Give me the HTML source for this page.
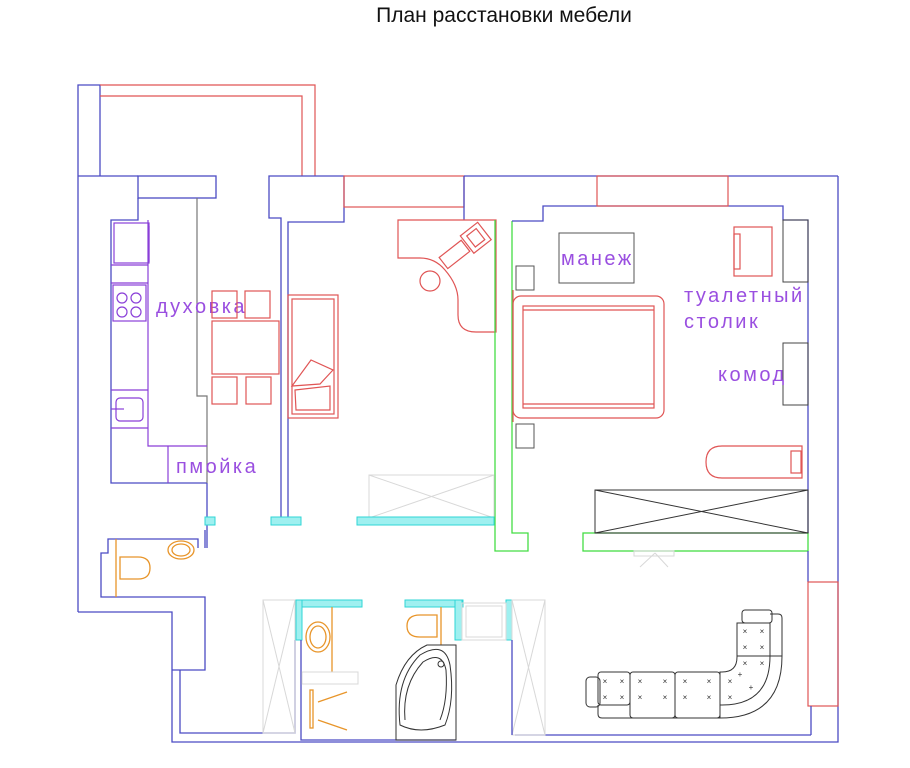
<!DOCTYPE html>
<html><head><meta charset="utf-8"><style>
html,body{margin:0;padding:0;background:#fff;width:910px;height:768px;overflow:hidden}
svg{display:block}
.b{stroke:#4b4bc4;fill:none;stroke-width:1.3}
.r{stroke:#e05555;fill:none;stroke-width:1.2}
.g{stroke:#44dd44;fill:none;stroke-width:1.3}
.k{stroke:#333;fill:none;stroke-width:1}
.lg{stroke:#d8d8d8;fill:none;stroke-width:1}
.o{stroke:#e8952a;fill:none;stroke-width:1.3}
.p{stroke:#8a3fd8;fill:none;stroke-width:1.2}
.c{fill:#9ff0f0;stroke:#2fd6d6;stroke-width:1}
.t{font-family:"Liberation Sans",sans-serif;fill:#9a4fe0;font-size:20px;letter-spacing:2.5px}
</style></head><body>
<svg width="910" height="768" viewBox="0 0 910 768">
<text x="504" y="22" text-anchor="middle" font-family="Liberation Sans, sans-serif" font-size="21" fill="#111">План расстановки мебели</text>

<!-- balcony -->
<polyline class="b" points="78,612 78,85 100,85 100,176"/>
<line class="b" x1="78" y1="176" x2="138" y2="176"/>
<polyline class="r" points="100,85 315,85 315,176"/>
<polyline class="r" points="100,96 302,96 302,176"/>
<rect class="b" x="138" y="176" width="78" height="22"/>
<polyline class="b" points="138,198 138,220 111,220 111,483 207,483"/>
<polyline points="197,198 197,396 207,396 207,483" fill="none" stroke="#777" stroke-width="1.2"/>
<polyline class="b" points="207,483 207,548"/>
<!-- counter -->
<polyline class="p" points="148,220 148,446 207,446"/>
<line class="p" x1="168" y1="446" x2="168" y2="483"/>
<rect class="p" x="114" y="223" width="35" height="40"/>
<line class="p" x1="149" y1="226" x2="149" y2="262" stroke-width="2"/>
<line class="p" x1="111" y1="265" x2="148" y2="265"/>
<line class="p" x1="111" y1="283" x2="148" y2="283"/>
<rect class="p" x="113" y="285" width="33" height="36" stroke-width="1.6"/>
<circle class="p" cx="122" cy="298" r="5"/><circle class="p" cx="136" cy="298" r="5"/>
<circle class="p" cx="122" cy="312" r="5"/><circle class="p" cx="136" cy="312" r="5"/>
<line class="p" x1="111" y1="390" x2="148" y2="390"/>
<line class="p" x1="111" y1="428" x2="148" y2="428"/>
<rect class="p" x="116" y="398" width="27" height="23" rx="4" stroke-width="2.2"/>
<line class="p" x1="111" y1="409" x2="124" y2="409" stroke-width="2"/>
<text class="t" x="156" y="313">духовка</text>
<text class="t" x="176" y="473">пмойка</text>
<!-- dining -->
<rect class="r" x="212" y="321" width="67" height="53"/>
<rect class="r" x="212" y="291" width="25" height="27"/><rect class="r" x="245" y="291" width="25" height="27"/>
<rect class="r" x="212" y="377" width="25" height="27"/><rect class="r" x="246" y="377" width="25" height="27"/>
<!-- hall wall block -->
<polyline class="b" points="281,518 281,218 269,218 269,176 344,176 344,222 288,222 288,518"/>
<rect class="r" x="344" y="176" width="120" height="31"/>
<line class="b" x1="464" y1="176" x2="838" y2="176"/>
<line class="b" x1="464" y1="176" x2="464" y2="220"/>
<!-- sofa bed left -->
<rect class="r" x="288" y="295" width="50" height="123" stroke-width="1.6"/>
<rect class="r" x="292" y="299" width="42" height="115"/>
<polygon class="r" points="292,386 311,360 333,370 320,384"/>
<polygon class="r" points="295,390 330,386 330,410 296,410"/>
<!-- desk -->
<path class="r" d="M398,220 H496 V332 H476 Q458,332 458,315 V300 Q458,285 445,270 Q435,258 420,258 H398 Z"/>
<g transform="rotate(-38 465 250)" class="r"><rect x="440" y="240" width="28" height="14"/><rect x="470" y="236" width="22" height="22"/><rect x="475" y="240" width="12" height="14"/></g>
<circle class="r" cx="430" cy="281" r="10" stroke-width="1.8"/>
<!-- bedroom walls -->
<polyline class="g" points="495,220 495,551 528,551 528,533 512,533 512,221"/>
<rect class="g" x="583" y="533" width="225" height="18"/>
<polyline class="b" points="512,221 543,221 543,206 783,206 783,220 808,220 808,533"/>
<rect class="r" x="597" y="176" width="131" height="30"/>
<polyline class="b" points="838,176 838,742 172,742 172,612 78,612"/>
<polyline class="b" points="808,551 808,582"/>
<rect class="r" x="808" y="582" width="30" height="124"/>
<line class="b" x1="811" y1="706" x2="811" y2="735"/>
<line class="b" x1="515" y1="735" x2="811" y2="735"/>
<!-- bedroom furniture -->
<rect x="783" y="220" width="25" height="62" fill="none" stroke="#444"/>
<rect x="783" y="343" width="25" height="62" fill="none" stroke="#444"/>
<rect x="559" y="233" width="75" height="50" fill="none" stroke="#555"/>
<text class="t" x="561" y="265">манеж</text>
<text class="t" x="684" y="302">туалетный</text>
<text class="t" x="684" y="328">столик</text>
<text class="t" x="718" y="381">комод</text>
<rect x="516" y="266" width="18" height="24" fill="none" stroke="#555"/>
<rect x="516" y="424" width="18" height="24" fill="none" stroke="#555"/>
<rect class="r" x="513" y="296" width="151" height="122" rx="8" stroke-width="1.4"/>
<rect class="r" x="523" y="306" width="131" height="102" stroke-width="1.4"/>
<line class="r" x1="513" y1="290" x2="513" y2="422" stroke-width="2.5"/>
<line class="r" x1="523" y1="310" x2="654" y2="310"/><line class="r" x1="523" y1="404" x2="654" y2="404"/>
<rect class="r" x="734" y="227" width="38" height="49"/>
<rect class="r" x="734" y="234" width="6" height="35"/>
<path class="r" d="M722,446 H802 V478 H722 Q706,478 706,462 Q706,446 722,446 Z"/>
<rect class="r" x="791" y="451" width="10" height="22"/>
<rect class="k" x="595" y="490" width="213" height="43"/>
<line class="k" x1="595" y1="490" x2="808" y2="533"/><line class="k" x1="595" y1="533" x2="808" y2="490"/>
<!-- doors -->
<rect class="lg" x="369" y="475" width="125" height="43"/>
<line class="lg" x1="369" y1="475" x2="494" y2="518"/><line class="lg" x1="369" y1="518" x2="494" y2="475"/>
<rect class="lg" x="634" y="551" width="40" height="5"/>
<line class="lg" x1="640" y1="567" x2="655" y2="553"/><line class="lg" x1="668" y1="567" x2="655" y2="553"/>
<!-- cyan walls -->
<rect class="c" x="205" y="517" width="10" height="8"/>
<rect class="c" x="271" y="517" width="30" height="8"/>
<rect class="c" x="357" y="517" width="137" height="8"/>
<!-- small wc -->
<polyline class="b" points="205,548 205,530"/>
<polyline class="b" points="198,548 198,539 108,539 108,553 101,553 101,597 205,597 205,670 172,670"/>
<line class="o" x1="116" y1="539" x2="116" y2="597"/>
<path class="o" d="M120,557 H138 Q150,557 150,568 Q150,579 138,579 H120 Z"/>
<ellipse class="o" cx="181" cy="550" rx="13" ry="9"/><ellipse class="o" cx="181" cy="550" rx="9" ry="6"/>
<polyline class="b" points="180,670 180,733 295,733 295,640"/>
<!-- bathroom -->
<rect class="lg" x="263" y="600" width="32" height="133"/>
<line class="lg" x1="263" y1="600" x2="295" y2="733"/><line class="lg" x1="263" y1="733" x2="295" y2="600"/>
<rect class="c" x="296" y="600" width="66" height="7"/>
<rect class="c" x="296" y="600" width="6" height="40"/>
<polyline class="b" points="301,640 301,740 456,740"/>
<line class="o" x1="332" y1="607" x2="332" y2="672"/>
<ellipse class="o" cx="318" cy="637" rx="12" ry="15"/><ellipse class="o" cx="318" cy="637" rx="8" ry="11"/>
<rect class="lg" x="302" y="672" width="56" height="12"/>
<rect class="o" x="310" y="690" width="3" height="38"/>
<line class="o" x1="318" y1="702" x2="347" y2="692"/><line class="o" x1="318" y1="720" x2="347" y2="730"/>
<rect class="c" x="405" y="600" width="58" height="7"/>
<rect class="c" x="455" y="600" width="7" height="40"/>
<rect class="c" x="506" y="600" width="6" height="40"/>
<rect class="lg" x="462" y="603" width="44" height="37"/>
<rect class="lg" x="466" y="606" width="36" height="31"/>
<line class="o" x1="441" y1="607" x2="441" y2="645"/>
<path class="o" d="M437,615 H420 Q407,615 407,626 Q407,637 420,637 H437 Z"/>
<path class="k" d="M396,740 V685 Q405,655 427,645 H456 V740 Z"/>
<path class="k" d="M400,725 Q395,680 420,655 Q445,640 450,665 Q455,700 445,725 Q420,735 400,725 Z"/>
<path class="k" d="M405,720 Q402,685 423,662 Q442,650 446,670 Q448,700 440,720"/>
<circle class="k" cx="441" cy="664" r="3"/>
<rect class="lg" x="512" y="600" width="33" height="135"/>
<line class="lg" x1="512" y1="600" x2="545" y2="735"/><line class="lg" x1="512" y1="735" x2="545" y2="600"/>
<line class="b" x1="512" y1="640" x2="512" y2="735"/>
<!-- corner sofa -->
<g class="k">
<rect x="586" y="677" width="14" height="30" rx="4"/>
<path d="M598,705 V714 Q598,718 602,718 H720 Q782,718 782,656 V618 Q782,614 778,614 H770"/>
<rect x="598" y="672" width="32" height="33" rx="3"/>
<rect x="630" y="672" width="45" height="46" rx="3"/>
<rect x="675" y="672" width="45" height="46" rx="3"/>
<path d="M720,672 H722 Q737,672 737,657 V623 H770 V656 Q770,705 722,705 H720 Z"/>
<line x1="720" y1="705" x2="720" y2="718"/>
<line x1="737" y1="656" x2="782" y2="656"/>
<rect x="742" y="610" width="30" height="13" rx="3"/>
</g>
<g font-family="Liberation Sans,sans-serif" font-size="8" fill="#333" text-anchor="middle">
<text x="605" y="684">×</text><text x="622" y="684">×</text><text x="605" y="700">×</text><text x="622" y="700">×</text>
<text x="640" y="684">×</text><text x="665" y="684">×</text><text x="640" y="700">×</text><text x="665" y="700">×</text>
<text x="685" y="684">×</text><text x="709" y="684">×</text><text x="685" y="700">×</text><text x="709" y="700">×</text>
<text x="730" y="684">×</text><text x="730" y="700">×</text><text x="740" y="677">+</text><text x="751" y="690">+</text>
<text x="745" y="634">×</text><text x="762" y="634">×</text><text x="745" y="650">×</text><text x="762" y="650">×</text>
<text x="745" y="666">×</text><text x="762" y="666">×</text>
</g>
</svg>
</body></html>
